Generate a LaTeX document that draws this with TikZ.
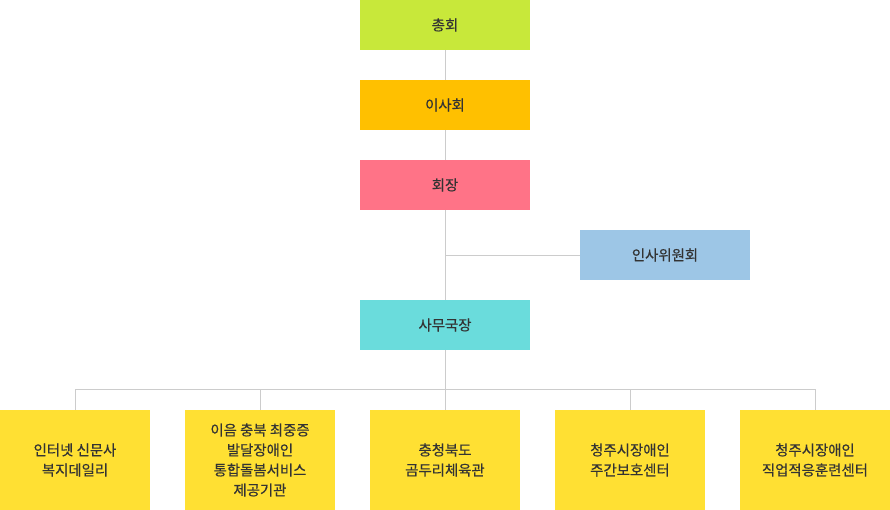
\documentclass[tikz,border=0pt]{standalone}
\usepackage{fontspec}
\newfontfamily\kr[FakeBold=0.4]{Noto Sans CJK KR}
\definecolor{cGen}{HTML}{C8E83A}
\definecolor{cBoard}{HTML}{FFC000}
\definecolor{cPres}{HTML}{FF7387}
\definecolor{cHR}{HTML}{9DC6E6}
\definecolor{cSec}{HTML}{6ADCDC}
\definecolor{cUnit}{HTML}{FFE033}
\definecolor{cLine}{HTML}{CCCCCC}
\definecolor{cText}{HTML}{333333}
\begin{document}
\begin{tikzpicture}[x=0.75pt,y=-0.75pt,
  box/.style={rectangle,inner sep=0pt,minimum width=127.5pt,minimum height=37.5pt,text=cText,font=\kr\fontsize{10.8}{15}\selectfont},
  unit/.style={rectangle,fill=cUnit,inner sep=0pt,minimum width=112.5pt,minimum height=75pt,text=cText,align=center,font=\kr\fontsize{10.8}{15}\selectfont},
  link/.style={draw=cLine,line width=0.75pt}]
\useasboundingbox (0,0) rectangle (890,510);
\node[box,fill=cGen] (gen) at (445,25) {총회};
\node[box,fill=cBoard] (board) at (445,105) {이사회};
\node[box,fill=cPres] (pres) at (445,185) {회장};
\node[box,fill=cHR] (hr) at (665,255) {인사위원회};
\node[box,fill=cSec] (sec) at (445,325) {사무국장};
\node[unit] (u1) at (75,460) {인터넷 신문사\\복지데일리};
\node[unit] (u2) at (260,460) {이음 충북 최중증\\발달장애인\\통합돌봄서비스\\제공기관};
\node[unit] (u3) at (445,460) {충청북도\\곰두리체육관};
\node[unit] (u4) at (630,460) {청주시장애인\\주간보호센터};
\node[unit] (u5) at (815,460) {청주시장애인\\직업적응훈련센터};
\coordinate (hrj) at (445,255);
\coordinate (bus) at (445,389.5);
\draw[link] (gen.south) -- (board.north);
\draw[link] (board.south) -- (pres.north);
\draw[link] (pres.south) -- (sec.north);
\draw[link] (hrj) -- (hr.west);
\draw[link] (sec.south) -- (u3.north);
\draw[link] (u1.north) |- (bus) -| (u5.north);
\draw[link] (u2.north) |- (bus);
\draw[link] (u4.north) |- (bus);
\end{tikzpicture}
\end{document}
